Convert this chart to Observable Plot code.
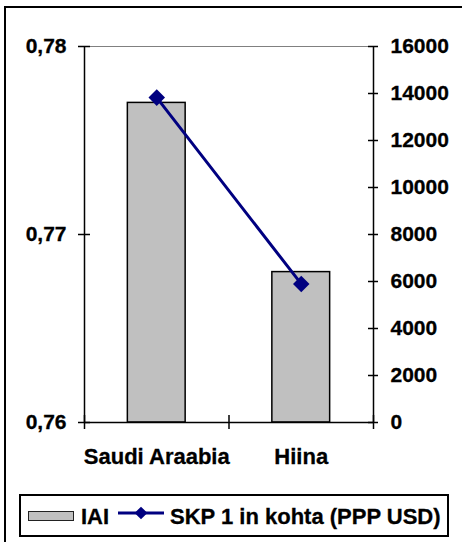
<!DOCTYPE html>
<html>
<head>
<meta charset="utf-8">
<script src="https://cdn.jsdelivr.net/npm/d3@7"></script>
<script src="https://cdn.jsdelivr.net/npm/@observablehq/plot@0.6"></script>
<style>
  html, body { margin: 0; padding: 0; background: #fff; overflow: hidden; }
  #page { position: relative; width: 462px; height: 542px; overflow: hidden; font-family: "Liberation Sans", Arial, sans-serif; font-weight: bold; }
  #frame { position: absolute; left: 4px; top: 6px; width: 520px; height: 600px; border: 2px solid #000; box-sizing: border-box; }
  #chart { position: absolute; left: 0; top: 0; }
  #legend { position: absolute; left: 19px; top: 494px; width: 430px; height: 43px; border: 2px solid #000; box-sizing: border-box; background: #fff; font-size: 22px; }
  #legend span { position: absolute; white-space: nowrap; line-height: 22px; top: 10px; }
  #legend .swatch { position: absolute; left: 7px; top: 15px; width: 46px; height: 10px; background: #c0c0c0; border: 1.5px solid #222; box-sizing: border-box; }
  #legend svg { position: absolute; left: 97px; top: 9px; }
  #chart text { stroke: #000; stroke-width: 0.3px; }
  #legend span { -webkit-text-stroke: 0.3px #000; }
</style>
</head>
<body>
<div id="page">
  <div id="frame"></div>
  <div id="chart"></div>
  <div id="legend"></div>
</div>
<script>
// ---- data ----
const categories = ["Saudi Araabia", "Hiina"];
const hdiValues = [0.777, 0.768];          // IAI (left axis)
const gdpValues = [13825, 5896];           // SKP 1 in kohta (PPP USD) (right axis)
const seriesNames = ["IAI", "SKP 1 in kohta (PPP USD)"];
const hdiTicks = [0.76, 0.77, 0.78];
const hdiTickLabels = ["0,76", "0,77", "0,78"];
const gdpTicks = [0, 2000, 4000, 6000, 8000, 10000, 12000, 14000, 16000];

// ---- layout ----
const W = 462, H = 542;
const mL = 84, mR = 89, mT = 46, mB = 120;
const plotW = W - mL - mR, plotH = H - mT - mB;

const hdiDomain = [0.76, 0.78];
const gdpDomain = [0, 16000];
const toY = v => hdiDomain[0] + (v - gdpDomain[0]) / (gdpDomain[1] - gdpDomain[0]) * (hdiDomain[1] - hdiDomain[0]);
const fromY = y => gdpDomain[0] + (y - hdiDomain[0]) / (hdiDomain[1] - hdiDomain[0]) * (gdpDomain[1] - gdpDomain[0]);

const rows = categories.map((c, i) => ({cat: c, i, hdi: hdiValues[i], gdp: gdpValues[i]}));
const base = hdiDomain[0];
const navy = "#000080";

const chart = Plot.plot({
  width: W, height: H,
  marginLeft: mL, marginRight: mR, marginTop: mT, marginBottom: mB,
  style: {fontFamily: "'Liberation Sans', Arial, sans-serif", fontSize: "21px", fontWeight: "bold", color: "#000", background: "transparent"},
  x: {type: "linear", domain: [0, categories.length]},
  y: {domain: hdiDomain},
  marks: [
    Plot.rectY(rows, {x1: d => d.i + 0.3, x2: d => d.i + 0.7, y1: base, y2: "hdi", fill: "#c0c0c0", stroke: "#000", strokeWidth: 1.5}),
    Plot.ruleY([hdiDomain[1]], {stroke: "#808080", strokeWidth: 1.2}),
    Plot.ruleX([0, categories.length], {x: d => d, y1: hdiDomain[0], y2: hdiDomain[1], stroke: "#000", strokeWidth: 1.5}),
    Plot.ruleY([hdiDomain[0]], {stroke: "#000", strokeWidth: 1.5}),
    // crossing tick marks
    Plot.tickY(hdiTicks, {y: d => d, insetLeft: -6, insetRight: plotW - 6, stroke: "#000", strokeWidth: 1.5}),
    Plot.tickY(gdpTicks.map(toY), {y: d => d, insetLeft: plotW - 5, insetRight: -5, stroke: "#000", strokeWidth: 1.5}),
    Plot.tickX(d3.range(categories.length + 1), {x: d => d, insetTop: plotH - 7, insetBottom: -7, stroke: "#000", strokeWidth: 1.5}),
    // axes labels
    Plot.axisY({anchor: "left", ticks: hdiTicks, tickFormat: (d) => hdiTickLabels[hdiTicks.findIndex(t => Math.abs(t - d) < 1e-9)], tickSize: 0, tickPadding: 18, label: null}),
    Plot.axisY({anchor: "right", ticks: gdpTicks.map(toY), tickFormat: d => String(Math.round(fromY(d))), tickSize: 0, tickPadding: 17, label: null}),
    Plot.axisX({ticks: categories.map((c, i) => i + 0.5), tickFormat: d => categories[Math.floor(d)], tickSize: 0, tickPadding: 26, fontSize: 22, label: null}),
    // line series
    Plot.line(rows, {x: d => d.i + 0.5, y: d => toY(d.gdp), stroke: navy, strokeWidth: 3}),
    Plot.dot(rows, {x: d => d.i + 0.5, y: d => toY(d.gdp), symbol: "square", rotate: 45, r: 6.6, fill: navy, stroke: "none"})
  ]
});
document.getElementById("chart").appendChild(chart);

// ---- legend ----
const legend = document.getElementById("legend");
legend.innerHTML = `
  <div class="swatch"></div>
  <span style="left:60px">${seriesNames[0]}</span>
  <svg width="46" height="16" viewBox="0 0 46 16">
    <line x1="0" y1="8" x2="46" y2="8" stroke="${navy}" stroke-width="3"></line>
    <rect x="18.5" y="3.5" width="9" height="9" fill="${navy}" transform="rotate(45 23 8)"></rect>
  </svg>
  <span style="left:149px">${seriesNames[1]}</span>`;
</script>
</body>
</html>
